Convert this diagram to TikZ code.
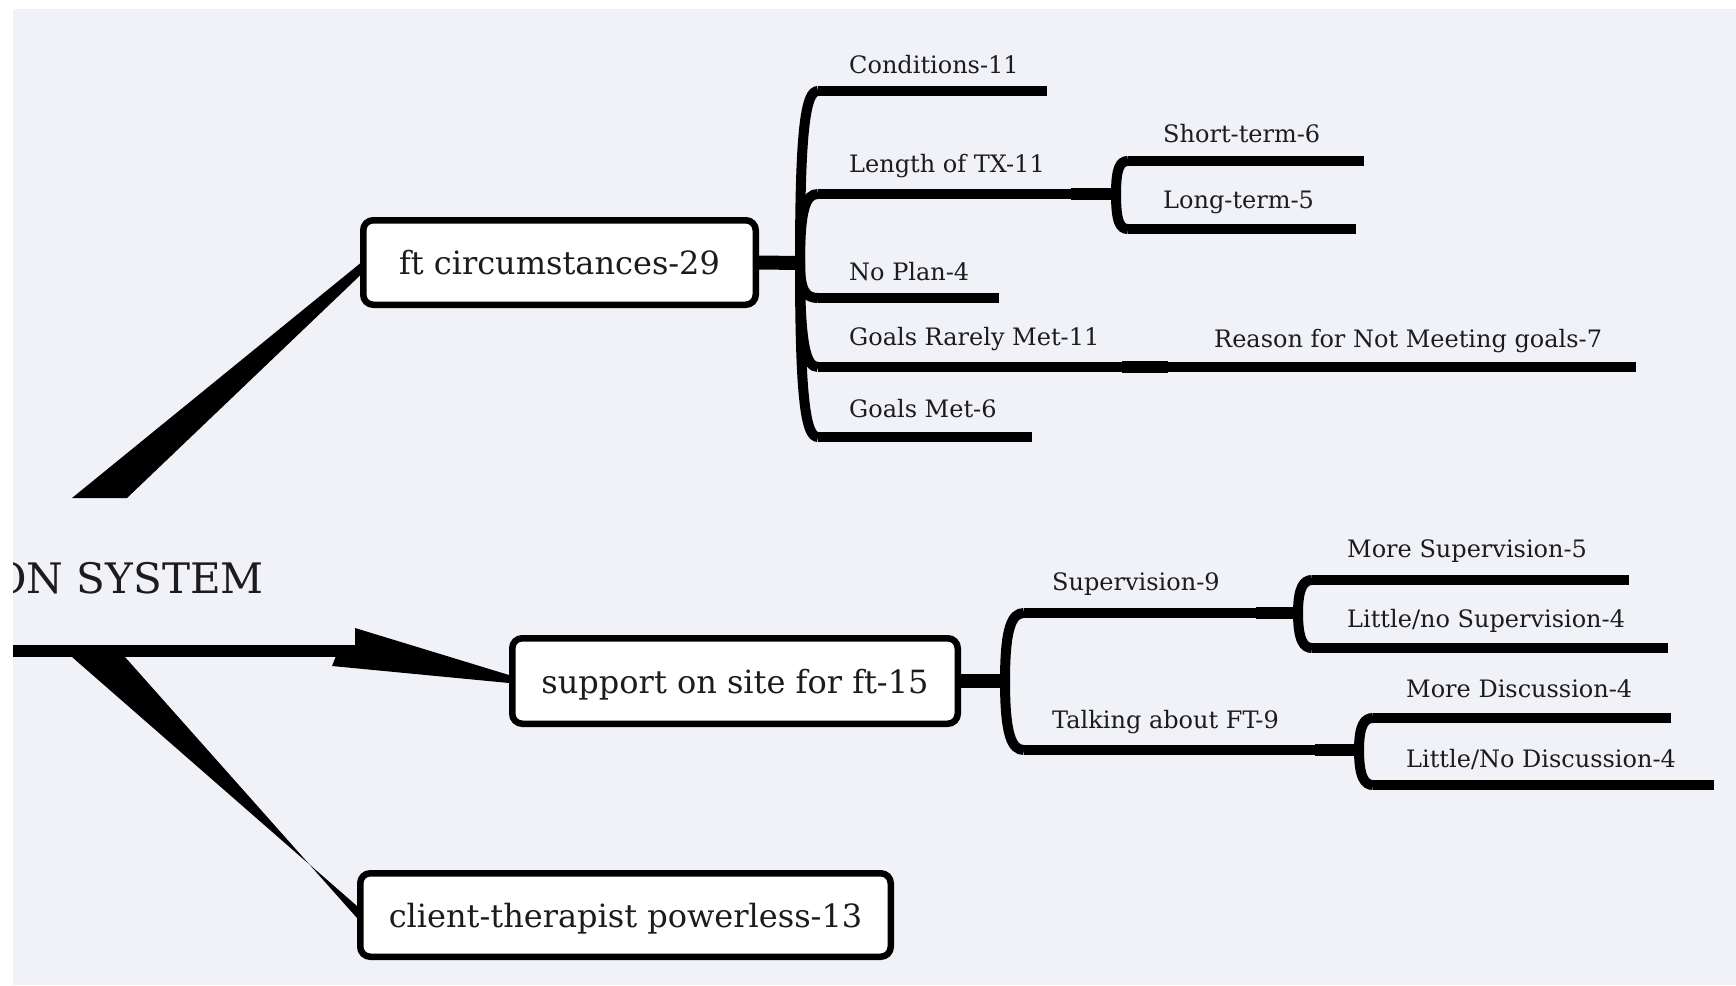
\documentclass[tikz,border=0pt]{standalone}
\usepackage{fontspec}
\setmainfont{DejaVu Serif}
\usetikzlibrary{calc}
\pgfdeclarelayer{back}
\pgfsetlayers{back,main}
\definecolor{bgc}{RGB}{241,242,248}
\definecolor{ink}{RGB}{0,0,0}
\definecolor{txt}{RGB}{28,28,28}
\begin{document}
\begin{tikzpicture}[x=1pt,y=-1pt,
  topic/.style={draw=ink, line width=6.5pt, rounded corners=10pt, fill=white,
    font=\fontsize{32}{38}\selectfont, text=txt, inner sep=0pt,
    text height=27pt, text depth=3pt},
  lbl/.style={anchor=base west, font=\fontsize{24}{29}\selectfont, text=txt, inner sep=0pt},
  rootlbl/.style={anchor=base east, font=\fontsize{42}{50}\selectfont, text=txt, inner sep=0pt},
  uline/.style={draw=ink, line width=10pt},
  stem/.style={draw=ink, line width=14pt},
  knot/.style={draw=ink, line width=12.5pt},
  brace/.style={draw=ink, line width=10pt},
  rootline/.style={draw=ink, line width=12pt},
  taper/.style={fill=ink}]
\useasboundingbox (0,0) rectangle (1736,985);

% ---------- main topics ----------
\node[topic, minimum width=392.5pt, minimum height=84.5pt] (ft)  at (559.5,262.5) {ft circumstances-29};
\node[topic, minimum width=445.5pt, minimum height=85.5pt] (sup) at (735,681) {support on site for ft-15};
\node[topic, minimum width=530.5pt, minimum height=83.5pt] (cli) at (625.5,915) {client-therapist powerless-13};

% ---------- canvas, central topic and tapered links ----------
\begin{pgfonlayer}{back}
  \fill[white] (0,0) rectangle (1736,985);
  \fill[bgc] (13,9) rectangle (1736,985);
  \begin{scope}
    \clip (13,9) rectangle (1736,985);
    \node[rootlbl] (root) at (264,593) {ON SYSTEM};
    \coordinate (root-l) at (0,651);
    \coordinate (root-r) at (356,651);
    \draw[rootline] (root-l) -- (root-r);
  \end{scope}
  \coordinate (tu1) at (72,498);
  \coordinate (tu2) at (127,498);
  \fill[taper] (tu1) -- (tu2) -- ($(ft.west)+(0,13)$) -- ($(ft.west)+(0,1)$) -- cycle;
  \coordinate (tm1) at (355,628);
  \coordinate (tm2) at (332,666);
  \fill[taper] (tm1) -- ($(sup.west)+(0,-6)$) -- ($(sup.west)+(0,2)$) -- (tm2) -- (338,651) -- (355,651) -- cycle;
  \coordinate (tl1) at (72,657);
  \coordinate (tl2) at (125,657);
  \fill[taper] (tl1) -- (tl2) -- ($(cli.west)+(0,3)$) -- ($(cli.west)+(0,-9)$) -- cycle;
\end{pgfonlayer}

% ---------- ft circumstances branch ----------
\coordinate (j1) at (800,263);
\draw[stem] (ft.east) -- (j1);

\coordinate (cond-a) at (818,91);   \coordinate (cond-b) at (1047,91);
\coordinate (len-a)  at (818,194);  \coordinate (len-b)  at (1071,194);
\coordinate (plan-a) at (818,298);  \coordinate (plan-b) at (999,298);
\coordinate (rare-a) at (818,367);  \coordinate (rare-b) at (1122,367);
\coordinate (met-a)  at (818,437);  \coordinate (met-b)  at (1032,437);

\draw[brace] (j1) .. controls +(0,-138) and +(-12,0) .. (cond-a);
\draw[brace] (j1) .. controls +(0,-55) and +(-12,0) .. (len-a);
\draw[brace] (j1) .. controls +(0,28) and +(-12,0) .. (plan-a);
\draw[brace] (j1) .. controls +(0,83) and +(-12,0) .. (rare-a);
\draw[brace] (j1) .. controls +(0,139) and +(-12,0) .. (met-a);

\draw[uline] (cond-a) -- (cond-b);
\draw[uline] (len-a) -- (len-b);
\draw[uline] (plan-a) -- (plan-b);
\draw[uline] (rare-a) -- (rare-b);
\draw[uline] (met-a) -- (met-b);

\node[lbl] (cond) at (849,73)  {Conditions-11};
\node[lbl] (len)  at (849,172) {Length of TX-11};
\node[lbl] (plan) at (849,280) {No Plan-4};
\node[lbl] (rare) at (849,345) {Goals Rarely Met-11};
\node[lbl] (met)  at (849,417) {Goals Met-6};

% length of treatment
\coordinate (j2) at (1116,194);
\draw[knot] (len-b) -- (j2);
\coordinate (short-a) at (1128,161); \coordinate (short-b) at (1364,161);
\coordinate (long-a)  at (1128,229); \coordinate (long-b)  at (1356,229);
\draw[brace] (j2) .. controls +(0,-26) and +(-8,0) .. (short-a);
\draw[brace] (j2) .. controls +(0,28) and +(-8,0) .. (long-a);
\draw[uline] (short-a) -- (short-b);
\draw[uline] (long-a) -- (long-b);
\node[lbl] (short) at (1163,142) {Short-term-6};
\node[lbl] (long)  at (1163,208) {Long-term-5};

% goals rarely met
\coordinate (j3) at (1168,367);
\draw[knot] (rare-b) -- (j3);
\coordinate (why-b) at (1636,367);
\draw[uline] (j3) -- (why-b);
\node[lbl] (why) at (1214,347) {Reason for Not Meeting goals-7};

% ---------- support branch ----------
\coordinate (j4) at (1005,681);
\draw[stem] (sup.east) -- (j4);
\coordinate (svn-a)  at (1024,613); \coordinate (svn-b)  at (1256,613);
\coordinate (talk-a) at (1024,750); \coordinate (talk-b) at (1315,750);
\draw[brace] (j4) .. controls +(0,-54) and +(-12,0) .. (svn-a);
\draw[brace] (j4) .. controls +(0,55) and +(-12,0) .. (talk-a);
\draw[uline] (svn-a) -- (svn-b);
\draw[uline] (talk-a) -- (talk-b);
\node[lbl] (svn)  at (1052,590) {Supervision-9};
\node[lbl] (talk) at (1052,728) {Talking about FT-9};

\coordinate (j5) at (1298,613);
\draw[knot] (svn-b) -- (j5);
\coordinate (msup-a) at (1312,580); \coordinate (msup-b) at (1629,580);
\coordinate (lsup-a) at (1312,648); \coordinate (lsup-b) at (1668,648);
\draw[brace] (j5) .. controls +(0,-26) and +(-8,0) .. (msup-a);
\draw[brace] (j5) .. controls +(0,28) and +(-8,0) .. (lsup-a);
\draw[uline] (msup-a) -- (msup-b);
\draw[uline] (lsup-a) -- (lsup-b);
\node[lbl] (msup) at (1347,557) {More Supervision-5};
\node[lbl] (lsup) at (1347,627) {Little/no Supervision-4};

\coordinate (j6) at (1359,750);
\draw[knot] (talk-b) -- (j6);
\coordinate (mdis-a) at (1373,718); \coordinate (mdis-b) at (1671,718);
\coordinate (ldis-a) at (1373,785); \coordinate (ldis-b) at (1714,785);
\draw[brace] (j6) .. controls +(0,-26) and +(-8,0) .. (mdis-a);
\draw[brace] (j6) .. controls +(0,28) and +(-8,0) .. (ldis-a);
\draw[uline] (mdis-a) -- (mdis-b);
\draw[uline] (ldis-a) -- (ldis-b);
\node[lbl] (mdis) at (1406,697) {More Discussion-4};
\node[lbl] (ldis) at (1406,767) {Little/No Discussion-4};
\end{tikzpicture}
\end{document}
